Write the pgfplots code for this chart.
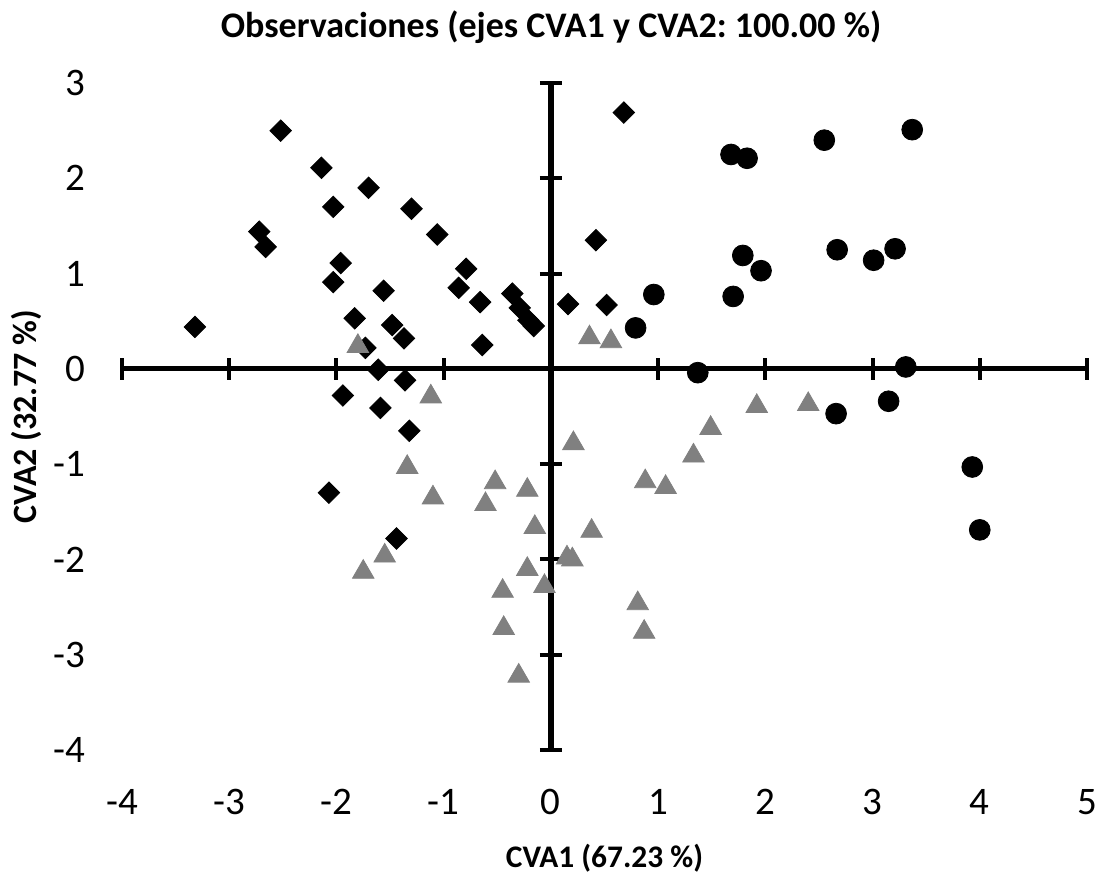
\documentclass[border=0pt]{standalone}
\usepackage{pgfplots}
\usepackage{pgfplotstable}
\pgfplotsset{compat=1.18}
\usepackage{fontspec}
\setmainfont{Carlito}
\frenchspacing

% group 1: diamonds
\pgfplotstableread{
x y
-3.32 0.44
-2.52 2.50
-2.72 1.44
-2.66 1.28
-2.14 2.11
-2.03 1.70
-1.96 1.11
-2.03 0.91
-1.70 1.90
-1.83 0.53
-1.73 0.22
-1.61 -0.01
-1.56 0.82
-1.48 0.46
-1.30 1.68
-1.37 0.32
-1.06 1.41
-0.79 1.05
-0.86 0.85
-0.66 0.70
-0.64 0.25
-0.36 0.79
-0.29 0.64
-0.21 0.51
-0.16 0.45
0.16 0.68
0.42 1.35
0.68 2.69
0.52 0.67
-1.94 -0.28
-1.59 -0.41
-1.36 -0.12
-1.32 -0.65
-2.07 -1.30
-1.44 -1.78
}\grpA

% group 2: triangles
\pgfplotstableread{
x y
-1.80 0.27
0.36 0.36
0.56 0.32
-1.12 -0.26
-1.34 -1.00
-1.10 -1.32
-0.52 -1.16
-0.61 -1.39
-0.22 -1.24
-0.15 -1.63
-1.55 -1.93
-1.75 -2.10
-0.22 -2.07
-0.06 -2.25
-0.45 -2.30
-0.44 -2.69
-0.30 -3.19
0.21 -0.75
1.49 -0.59
1.92 -0.36
2.40 -0.34
1.33 -0.88
0.88 -1.15
1.07 -1.21
0.38 -1.67
0.15 -1.95
0.20 -1.97
0.81 -2.43
0.87 -2.73
}\grpB

% group 3: circles
\pgfplotstableread{
x y
3.37 2.51
2.55 2.40
1.68 2.25
1.83 2.21
2.67 1.25
3.21 1.26
3.01 1.14
1.79 1.19
1.96 1.03
1.70 0.76
0.96 0.78
0.79 0.43
1.37 -0.04
3.31 0.02
2.66 -0.47
3.15 -0.34
3.93 -1.03
4.00 -1.69
}\grpC

\begin{document}
\begin{tikzpicture}
\useasboundingbox (-61pt,-63.5pt) rectangle (491pt,375pt);
% crossing axes through the origin
\begin{axis}[
  scale only axis, width=482.5pt, height=333.5pt,
  xmin=-4, xmax=5, ymin=-4, ymax=3,
  xtick={-4,...,5}, ytick={-4,...,3},
  axis lines=middle,
  axis line style={-, line width=2.65pt, black},
  tick align=center, major tick length=11pt,
  tick style={line width=2pt, black},
  xticklabels={}, yticklabels={},
]
\end{axis}
% data, tick labels and titles
\begin{axis}[
  scale only axis, width=482.5pt, height=333.5pt,
  xmin=-4, xmax=5, ymin=-4, ymax=3,
  xtick={-4,...,5}, ytick={-4,...,3},
  xticklabels={-4,-3,-2,-1,0,1,2,3,4,5},
  yticklabels={-4,-3,-2,-1,0,1,2,3},
  axis line style={draw=none}, major tick length=0pt,
  tick label style={font=\fontsize{19.5}{22}\selectfont},
  xticklabel style={yshift=-16pt},
  yticklabel style={xshift=-15pt},
  xlabel={CVA1 (67.23 \%)}, ylabel={CVA2 (32.77 \%)},
  xlabel style={at={(axis description cs:0.5,-0.162)}, anchor=center, font=\bfseries\fontsize{15.7}{18}\selectfont},
  ylabel style={at={(axis description cs:-0.0995,0.5)}, anchor=center, font=\bfseries\fontsize{17}{19}\selectfont},
  title={Observaciones (ejes CVA1 y CVA2: 100.00 \%)},
  title style={at={(axis description cs:0.4446,1.066)}, anchor=center, font=\bfseries\fontsize{18}{21}\selectfont},
  clip=false,
]
\addplot[only marks, mark=square*, mark size=3.8pt, mark options={rotate=45, fill=black, draw=black}] table {\grpA};
\addplot[only marks, mark=triangle*, mark size=6.2pt, mark options={yshift=-1.55pt, fill=black!50, draw=black!50}] table {\grpB};
\addplot[only marks, mark=*, mark size=5.2pt, mark options={fill=black, draw=black}] table {\grpC};
\end{axis}
\end{tikzpicture}
\end{document}
